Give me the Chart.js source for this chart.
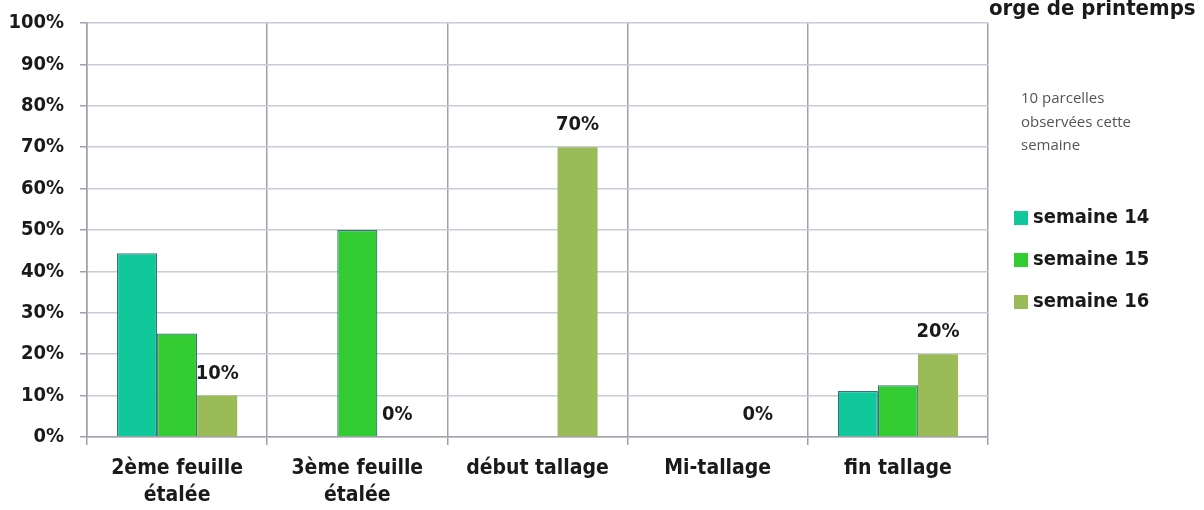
<!DOCTYPE html>
<html>
<head>
<meta charset="utf-8">
<script src="https://cdn.jsdelivr.net/npm/chart.js@4.4.1/dist/chart.umd.min.js"></script>
<style>
  body { margin: 0; background: #fff; }
  #wrap { width: 1204px; height: 510px; position: relative; }
</style>
</head>
<body>
<div id="wrap"><canvas id="chart"></canvas></div>
<script>
const categories = [['2ème feuille', 'étalée'], ['3ème feuille', 'étalée'], 'début tallage', 'Mi-tallage', 'fin tallage'];
const semaine14 = [44.4, 0, 0, 0, 11.1];
const semaine15 = [25, 50, 0, 0, 12.5];
const semaine16 = [10, 0, 70, 0, 20];
const seriesNames = ['semaine 14', 'semaine 15', 'semaine 16'];
const seriesColors = ['#10c89a', '#33cc33', '#9bbb59'];
const chartTitle = 'orge de printemps';
const noteLines = ['10 parcelles', 'observées cette', 'semaine'];

const FONT = "'Liberation Sans Narrow', 'DejaVu Sans Condensed', sans-serif";

// draws the value labels over semaine 16, plus the side legend and notes
const extras = {
    id: 'extras',
    afterDatasetsDraw(chart) {
        const ctx = chart.ctx;
        const meta = chart.getDatasetMeta(2);
        ctx.save();
        ctx.fillStyle = '#1a1a1a';
        ctx.font = 'bold 20px ' + FONT;
        ctx.textAlign = 'center';
        ctx.textBaseline = 'bottom';
        meta.data.forEach((bar, i) => {
            ctx.fillText(semaine16[i] + '%', bar.x, bar.y - 12);
        });
        ctx.restore();
    },
    afterDraw(chart) {
        const ctx = chart.ctx;
        ctx.save();
        ctx.fillStyle = '#1a1a1a';
        ctx.font = 'bold 22px ' + FONT;
        ctx.textAlign = 'left';
        ctx.textBaseline = 'middle';
        ctx.fillText(chartTitle, 989, 9);

        ctx.fillStyle = '#555';
        ctx.font = "15px 'Open Sans', sans-serif";
        noteLines.forEach((line, i) => ctx.fillText(line, 1021, 99 + i * 23.5));

        seriesNames.forEach((name, i) => {
            const y = 218 + i * 42;
            ctx.fillStyle = seriesColors[i];
            ctx.fillRect(1014, y - 7, 14, 14);
            ctx.fillStyle = '#1a1a1a';
            ctx.font = 'bold 20px ' + FONT;
            ctx.fillText(name, 1033, y);
        });
        ctx.restore();
    }
};

new Chart(document.getElementById('chart'), {
    type: 'bar',
    data: {
        labels: categories,
        datasets: [
            { label: seriesNames[0], data: semaine14, backgroundColor: seriesColors[0], borderColor: '#3a7080', borderWidth: 1.2 },
            { label: seriesNames[1], data: semaine15, backgroundColor: seriesColors[1], borderColor: '#3a7080', borderWidth: 1.2 },
            { label: seriesNames[2], data: semaine16, backgroundColor: seriesColors[2], borderWidth: 0 }
        ]
    },
    options: {
        responsive: true,
        maintainAspectRatio: false,
        animation: false,
        layout: { padding: { top: 23, right: 216, left: 0, bottom: 0 } },
        datasets: { bar: { categoryPercentage: 0.667, barPercentage: 1 } },
        plugins: {
            legend: { display: false },
            tooltip: { enabled: false }
        },
        scales: {
            x: {
                grid: { offset: true, color: '#a0a0aa', lineWidth: 1.5, tickLength: 8, tickColor: '#a0a0aa' },
                border: { color: '#a0a0aa', width: 1.5 },
                ticks: {
                    color: '#1a1a1a',
                    padding: 10,
                    font: { family: FONT, size: 21, weight: 'bold', lineHeight: 1.3 }
                },
                afterFit(scale) { scale.height = 73; scale.paddingLeft = 0; scale.paddingRight = 0; }
            },
            y: {
                min: 0,
                max: 100,
                ticks: {
                    stepSize: 10,
                    color: '#1a1a1a',
                    padding: 16,
                    font: { family: FONT, size: 20, weight: 'bold' },
                    callback: v => v + '%'
                },
                grid: { color: '#c8ccd8', lineWidth: 1.5, tickLength: 7, tickColor: '#a0a0aa' },
                border: { color: '#a0a0aa', width: 1.5 },
                afterFit(scale) { scale.width = 87; scale.paddingTop = 0; scale.paddingBottom = 0; }
            }
        }
    },
    plugins: [extras]
});
</script>
</body>
</html>
